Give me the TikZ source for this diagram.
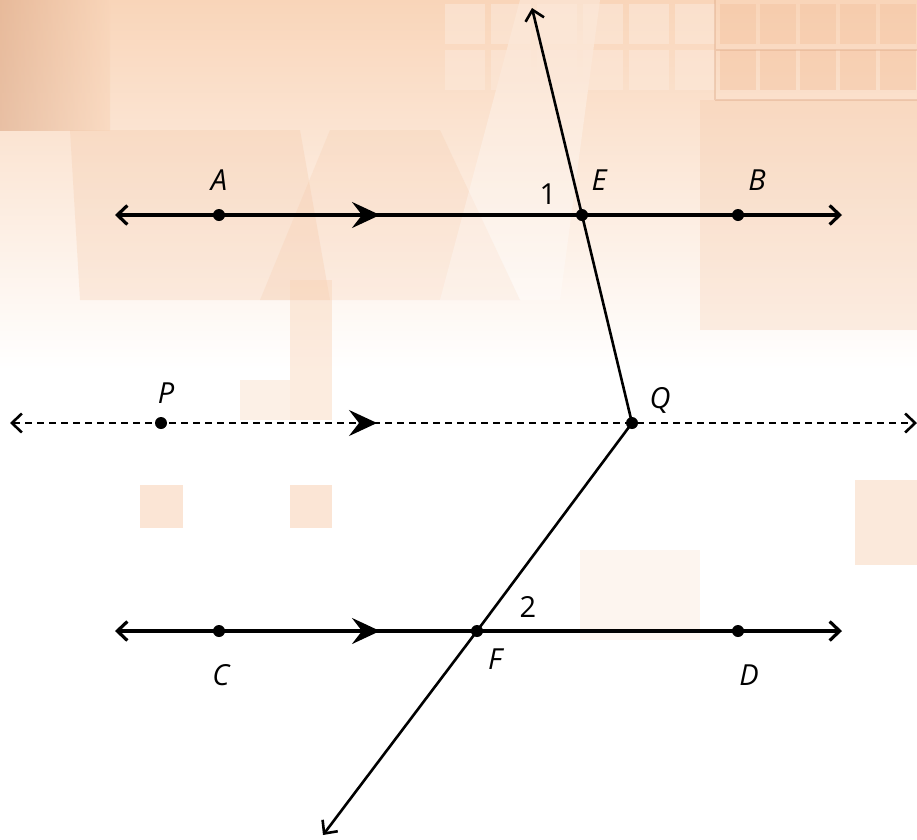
\documentclass[tikz,border=0pt]{standalone}
\usepackage{fontspec}
\setsansfont{Open Sans}
\usetikzlibrary{arrows.meta,decorations.markings}
\definecolor{peach}{HTML}{F9D5B9}
\definecolor{peachd}{HTML}{F4C29E}
\definecolor{peachl}{HTML}{FCE8D9}
\definecolor{brownish}{HTML}{DCA886}
\begin{document}
\begin{tikzpicture}[x=1pt,y=-1pt,
  ln/.style={line width=3.2pt,line cap=butt},
  tl/.style={line width=2.6pt},
  endtip/.style={{Straight Barb[length=10pt,width=19pt]}-{Straight Barb[length=10pt,width=19pt]}},
  dot/.style={circle,fill=black,inner sep=0pt,minimum size=12pt},
  lab/.style={font=\sffamily\itshape\fontsize{29}{32}\selectfont,inner sep=0pt},
  num/.style={font=\sffamily\fontsize{29}{32}\selectfont,inner sep=0pt},
  chev/.style={postaction={decorate,decoration={markings,mark=at position #1 with {\arrow{Stealth[length=28pt,width=26pt,inset=10pt]}}}}}
]
\useasboundingbox (0,0) rectangle (917,839);
% background
\fill[white] (0,0) rectangle (917,839);
\shade[top color=peach, bottom color=white] (0,0) rectangle (917,370);
\fill[peachd,opacity=0.25] (700,100) rectangle (917,330);
\fill[peachd,opacity=0.2] (330,130) -- (440,130) -- (520,300) -- (260,300) -- cycle;
\fill[peachd,opacity=0.25] (70,130) -- (300,130) -- (330,300) -- (80,300) -- cycle;
\shade[left color=brownish, right color=peach,opacity=0.6] (0,0) rectangle (110,130);
\fill[white,opacity=0.3] (440,300) -- (520,0) -- (600,0) -- (560,300) -- cycle;
% top right grid
\foreach \i in {0,...,5}{
  \foreach \j in {0,1}{
    \fill[peachl,opacity=0.6] (445+\i*46,4+\j*46) rectangle ++(40,40);
  }
}
\foreach \i in {0,...,4}{
  \foreach \j in {0,1}{
    \fill[peachd,opacity=0.45] (720+\i*40,4+\j*46) rectangle ++(36,40);
  }
}
\draw[brownish,line width=2pt,opacity=0.4] (715,0) -- (715,100) (715,50) -- (917,50) (715,100) -- (917,100);
% lower decorative squares
\fill[peach,opacity=0.6] (140,485) rectangle (183,528);
\fill[peach,opacity=0.6] (290,485) rectangle (332,528);
\fill[peach,opacity=0.45] (290,280) rectangle (332,420);
\fill[peach,opacity=0.35] (240,380) rectangle (290,420);
\fill[peach,opacity=0.5] (855,480) rectangle (917,565);
\fill[peachl,opacity=0.4] (580,550) rectangle (700,640);

% points
\node[dot] (A) at (219,215) {};
\node[dot] (E) at (582,215) {};
\node[dot] (B) at (738,215) {};
\node[dot] (P) at (161,423) {};
\node[dot] (Q) at (632,423) {};
\node[dot] (C) at (219,631) {};
\node[dot] (F) at (477,631) {};
\node[dot] (D) at (738,631) {};
\coordinate (ABl) at (115,215);
\coordinate (ABr) at (842,215);
\coordinate (PQl) at (10,423);
\coordinate (PQr) at (917,423);
\coordinate (CDl) at (115,631);
\coordinate (CDr) at (842,631);
\coordinate (Etop) at (532,8);
\coordinate (Fbot) at (323,835);

% lines
\draw[ln,endtip,chev=265pt] (ABl) -- (A.center) -- (E.center) -- (B.center) -- (ABr);
\draw[ln,endtip,chev=265pt] (CDl) -- (C.center) -- (F.center) -- (D.center) -- (CDr);
\draw[line width=2.6pt,dash pattern=on 7pt off 5pt,endtip,chev=367pt] (PQl) -- (P.center) -- (Q.center) -- (PQr);
\draw[tl,{Straight Barb[length=10pt,width=19pt]}-] (Etop) -- (E.center) -- (Q.center) -- (F.center);
\draw[tl,-{Straight Barb[length=10pt,width=19pt]}] (F.center) -- (Fbot);

% labels
\node[lab] at (219,180) {A};
\node[lab] at (599,180) {E};
\node[lab] at (757,180) {B};
\node[num] at (548,194) {1};
\node[lab] at (166,393) {P};
\node[lab] at (660,400) {Q};
\node[num] at (528,607) {2};
\node[lab] at (495,659) {F};
\node[lab] at (221,675) {C};
\node[lab] at (749,675) {D};
\end{tikzpicture}
\end{document}
